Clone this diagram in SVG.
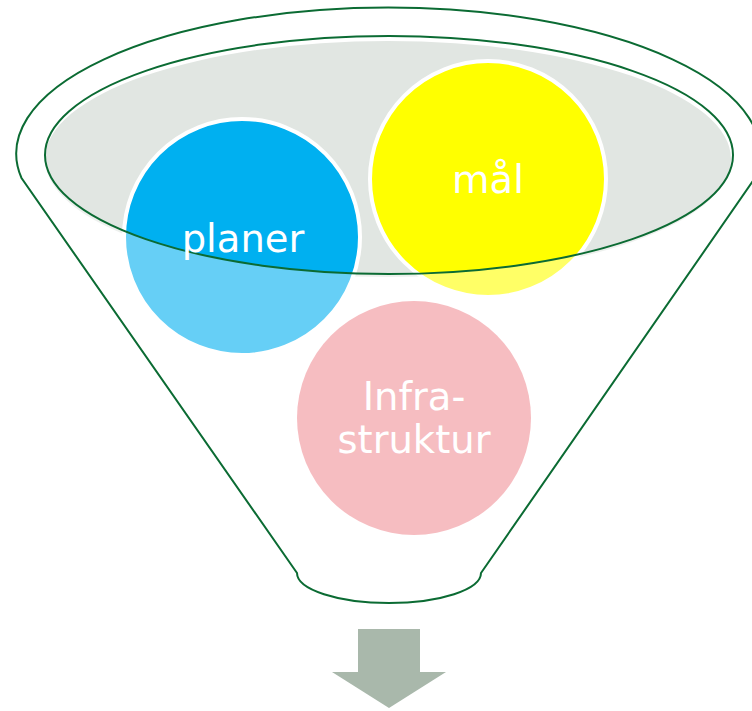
<svg xmlns="http://www.w3.org/2000/svg" width="752" height="711" viewBox="0 0 752 711">
  <style>
    .outline { fill: none; stroke: #0B6B33; stroke-width: 2; }
    .circ { stroke: #FFFFFF; stroke-width: 4; }
    .label { fill: #FFFFFF; font-family: "DejaVu Sans", Verdana, sans-serif; font-size: 38.5px; text-anchor: middle; }
  </style>
  <defs>
    <path id="funnelPath" d="M 21.5,178 A 372 146 0 1 1 755,178 L 481,573 A 92 30 0 0 1 297,573 Z"/>
  </defs>
  <rect width="752" height="711" fill="#FFFFFF"/>
  <g id="funnel-back">
    <use href="#funnelPath" fill="#FFFFFF"/>
    <ellipse cx="388" cy="159" rx="343" ry="118" fill="#E1E6E2"/>
  </g>
  <g id="planer">
    <circle class="circ" cx="242" cy="237" r="118" fill="#00B0F0"/>
  </g>
  <g id="mal">
    <circle class="circ" cx="488" cy="179" r="118" fill="#FFFF00"/>
  </g>
  <g id="infrastruktur">
    <circle cx="414" cy="418" r="117" fill="#F19198"/>
  </g>
  <g id="funnel-front">
    <path d="M 21.5,178 A 372 146 0 1 1 755,178 L 481,573 A 92 30 0 0 1 297,573 Z M 45,155 A 344 119 0 1 0 733,155 A 344 119 0 1 0 45,155 Z" fill="#FFFFFF" fill-opacity="0.4" fill-rule="evenodd"/>
    <ellipse class="outline" cx="389" cy="155" rx="344" ry="119"/>
    <use href="#funnelPath" class="outline"/>
  </g>
  <g id="labels">
    <text class="label" x="243" y="252">planer</text>
    <text class="label" x="488" y="193">mål</text>
    <text class="label" x="414" y="410">Infra-</text>
    <text class="label" x="414" y="453">struktur</text>
  </g>
  <g id="connectors">
    <polygon points="358,629 420,629 420,672 446,672 389,708 332,672 358,672" fill="#A9B8AB"/>
  </g>
</svg>
